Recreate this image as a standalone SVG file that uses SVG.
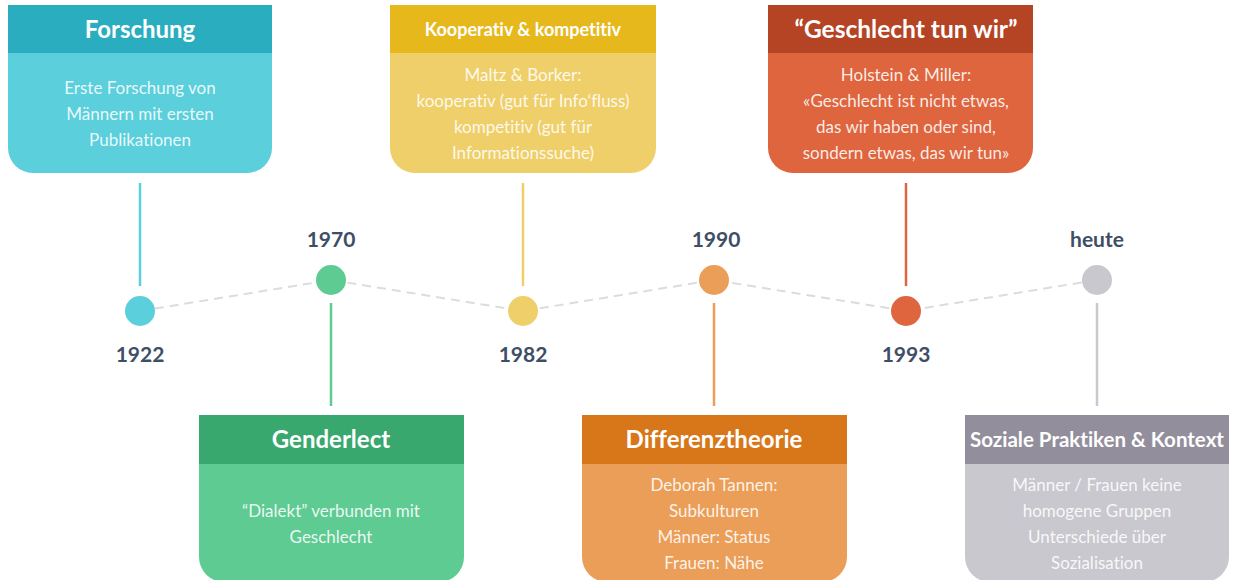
<svg xmlns="http://www.w3.org/2000/svg" width="1237" height="580" viewBox="0 0 1237 580">
<style>
text{font-variant-ligatures:none;font-feature-settings:"liga" 0,"dlig" 0}
.ttl{font-family:Lato,"Liberation Sans",sans-serif;font-weight:700;fill:#fff;text-anchor:middle}
.bd{font-family:Lato,"Liberation Sans",sans-serif;font-size:17px;fill:#fff;fill-opacity:0.88;text-anchor:middle}
.yr{font-family:Lato,"Liberation Sans",sans-serif;font-weight:700;font-size:21px;fill:#3e4e66;text-anchor:middle}
.dash{stroke:#dcdcdc;stroke-width:2;stroke-dasharray:9 6;fill:none}
.stem{stroke-width:2.5}
</style>
<rect width="1237" height="580" fill="#fff"/>
<g id="connectors">
<polyline class="dash" points="140,311 331,280 523,311 714,280 906,311 1097,280"/>
<line class="stem" x1="140" y1="183" x2="140" y2="286" stroke="#5bcfdc"/>
<line class="stem" x1="523" y1="183" x2="523" y2="286" stroke="#efcf6a"/>
<line class="stem" x1="906" y1="183" x2="906" y2="286" stroke="#de653e"/>
<line class="stem" x1="331" y1="303" x2="331" y2="406" stroke="#5ecb93"/>
<line class="stem" x1="714" y1="303" x2="714" y2="406" stroke="#eb9e58"/>
<line class="stem" x1="1097" y1="303" x2="1097" y2="406" stroke="#c9c8ce"/>
</g>
<g id="dot-1922"><circle cx="140" cy="311" r="15" fill="#5bcfdc"/><text class="yr" x="140" y="362">1922</text></g>
<g id="dot-1970"><circle cx="331" cy="280" r="15" fill="#5ecb93"/><text class="yr" x="331" y="247">1970</text></g>
<g id="dot-1982"><circle cx="523" cy="311" r="15" fill="#efcf6a"/><text class="yr" x="523" y="362">1982</text></g>
<g id="dot-1990"><circle cx="714" cy="280" r="15" fill="#eb9e58"/><text class="yr" x="716" y="247">1990</text></g>
<g id="dot-1993"><circle cx="906" cy="311" r="15" fill="#de653e"/><text class="yr" x="906" y="362">1993</text></g>
<g id="dot-heute"><circle cx="1097" cy="280" r="15" fill="#c9c8ce"/><text class="yr" x="1097" y="247">heute</text></g>

<g id="box-forschung">
<path d="M8,5 H272 V148 A25,25 0 0 1 247,173 H33 A25,25 0 0 1 8,148 Z" fill="#5bcfdc"/>
<rect x="8" y="5" width="264" height="48" fill="#2aaebf"/>
<text class="ttl" x="140" y="38" font-size="24">Forschung</text>
<text class="bd" x="140" y="94">Erste Forschung von</text>
<text class="bd" x="140" y="120">Männern mit ersten</text>
<text class="bd" x="140" y="146">Publikationen</text>
</g>
<g id="box-kooperativ">
<path d="M390,5 H656 V148 A25,25 0 0 1 631,173 H415 A25,25 0 0 1 390,148 Z" fill="#efcf6a"/>
<rect x="390" y="5" width="266" height="48" fill="#e7b81c"/>
<text class="ttl" x="523" y="36" font-size="18">Kooperativ &amp; kompetitiv</text>
<text class="bd" x="523" y="81">Maltz &amp; Borker:</text>
<text class="bd" x="523" y="107">kooperativ (gut für Info‘fluss)</text>
<text class="bd" x="523" y="133">kompetitiv (gut für</text>
<text class="bd" x="523" y="159">Informationssuche)</text>
</g>
<g id="box-geschlecht">
<path d="M768,5 H1033 V148 A25,25 0 0 1 1008,173 H793 A25,25 0 0 1 768,148 Z" fill="#de653e"/>
<rect x="768" y="5" width="265" height="48" fill="#b54425"/>
<text class="ttl" x="906" y="38" font-size="24.5">“Geschlecht tun wir”</text>
<text class="bd" x="906" y="81">Holstein &amp; Miller:</text>
<text class="bd" x="906" y="107">«Geschlecht ist nicht etwas,</text>
<text class="bd" x="906" y="133">das wir haben oder sind,</text>
<text class="bd" x="906" y="159">sondern etwas, das wir tun»</text>
</g>
<g id="box-genderlect">
<path d="M199,415 H464 V557 A25,25 0 0 1 439,582 H224 A25,25 0 0 1 199,557 Z" fill="#5ecb93"/>
<rect x="199" y="415" width="265" height="49" fill="#38a86e"/>
<text class="ttl" x="331" y="448" font-size="24">Genderlect</text>
<text class="bd" x="331" y="517">“Dialekt” verbunden mit</text>
<text class="bd" x="331" y="543">Geschlecht</text>
</g>
<g id="box-differenz">
<path d="M582,415 H847 V557 A25,25 0 0 1 822,582 H607 A25,25 0 0 1 582,557 Z" fill="#eb9e58"/>
<rect x="582" y="415" width="265" height="49" fill="#d8761a"/>
<text class="ttl" x="714" y="448" font-size="24">Differenztheorie</text>
<text class="bd" x="714" y="491">Deborah Tannen:</text>
<text class="bd" x="714" y="517">Subkulturen</text>
<text class="bd" x="714" y="543">Männer: Status</text>
<text class="bd" x="714" y="569">Frauen: Nähe</text>
</g>
<g id="box-soziale">
<path d="M965,415 H1229 V557 A25,25 0 0 1 1204,582 H990 A25,25 0 0 1 965,557 Z" fill="#c9c8ce"/>
<rect x="965" y="415" width="264" height="49" fill="#928e9c"/>
<text class="ttl" x="1097" y="447" font-size="20.5">Soziale Praktiken &amp; Kontext</text>
<text class="bd" x="1097" y="491">Männer / Frauen keine</text>
<text class="bd" x="1097" y="517">homogene Gruppen</text>
<text class="bd" x="1097" y="543">Unterschiede über</text>
<text class="bd" x="1097" y="569">Sozialisation</text>
</g>
</svg>
